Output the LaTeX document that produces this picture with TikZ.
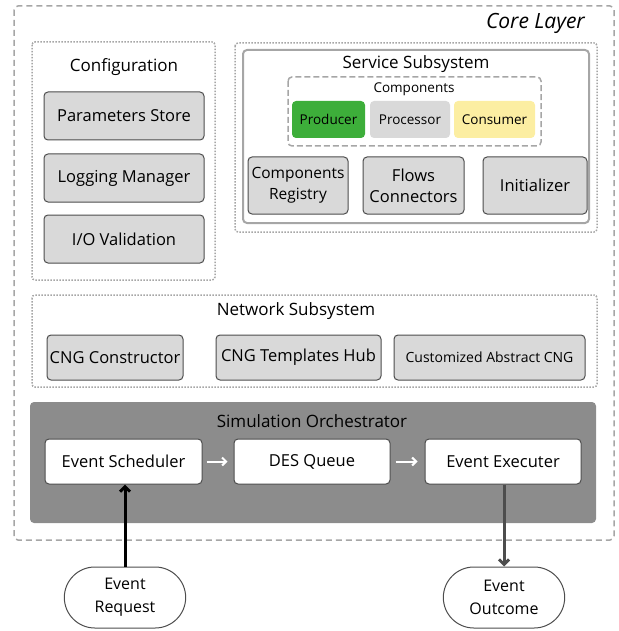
\documentclass[tikz,border=0pt]{standalone}
\usepackage{fontspec}
\setmainfont{Open Sans}
\usetikzlibrary{arrows.meta,shapes.misc}
\definecolor{boxgray}{HTML}{D9D9D9}
\definecolor{edgegray}{HTML}{4D4D4D}
\definecolor{dotgray}{HTML}{A6A6A6}
\definecolor{orchgray}{HTML}{8C8C8C}
\definecolor{prodgreen}{HTML}{3DAE3A}
\definecolor{consyellow}{HTML}{FCEEA2}
\tikzset{
  x=1pt,y=-1pt,
  gbox/.style={draw=edgegray,fill=boxgray,rounded corners=4,line width=1,align=center,inner sep=1,font=\fontsize{16.5}{21}\selectfont},
  wbox/.style={draw=edgegray,fill=white,rounded corners=4,line width=1,align=center,inner sep=1,font=\fontsize{16.5}{21}\selectfont},
  cbox/.style={rounded corners=4,align=center,inner sep=1,font=\fontsize{13.5}{16}\selectfont},
  dotbox/.style={draw=dotgray,line width=1.5,rounded corners=3,dash pattern=on 1.5pt off 1.5pt},
  ttl/.style={font=\fontsize{17}{20}\selectfont,inner sep=0},
  term/.style={draw=edgegray,fill=white,rounded rectangle,line width=1,align=center,minimum width=128,minimum height=61,font=\fontsize{16}{23}\selectfont},
  warrow/.style={draw=white,line width=2,-{Straight Barb[length=4pt,width=8pt]}},
}
\begin{document}
\begin{tikzpicture}
\useasboundingbox (0,0) rectangle (618,631);
% Core layer
\draw[dotgray,line width=1.5,rounded corners=4,dash pattern=on 6pt off 4pt] (14,6) rectangle (614,540);
\node[font=\fontsize{21}{24}\selectfont\itshape,anchor=east,inner sep=0] (core) at (585,23) {Core Layer};
% Configuration
\draw[dotbox] (32,42) rectangle (215,280);
\node[ttl] (cfg) at (124,67) {Configuration};
\node[gbox,minimum width=160,minimum height=48] (ps) at (124,116) {Parameters Store};
\node[gbox,minimum width=160,minimum height=48] (lm) at (124,178) {Logging Manager};
\node[gbox,minimum width=160,minimum height=48] (io) at (124,239) {I/O Validation};
% Service
\draw[dotbox] (235,43) rectangle (597,232);
\draw[dotgray,line width=2,rounded corners=4] (243,50) rectangle (589,223);
\node[ttl] (svc) at (416,64) {Service Subsystem};
\draw[dotgray,line width=1.5,rounded corners=4,dash pattern=on 6pt off 3pt] (288,77) rectangle (541,146);
\node[font=\fontsize{13.5}{16}\selectfont,inner sep=0] (comp) at (414,89) {Components};
\node[cbox,fill=prodgreen,minimum width=73,minimum height=37] (prod) at (328.5,119.5) {Producer};
\node[cbox,fill=boxgray,minimum width=80,minimum height=37] (proc) at (410,119.5) {Processor};
\node[cbox,fill=consyellow,minimum width=81,minimum height=37] (cons) at (494.5,119.5) {Consumer};
\node[gbox,minimum width=100,minimum height=57,font=\fontsize{15.5}{21}\selectfont] (reg) at (298,185.5) {Components\\Registry};
\node[gbox,minimum width=101,minimum height=57] (flw) at (413.5,185.5) {Flows\\Connectors};
\node[gbox,minimum width=104,minimum height=57] (ini) at (535,185.5) {Initializer};
% Network
\draw[dotbox] (32,295) rectangle (597,387);
\node[ttl] (net) at (296,311) {Network Subsystem};
\node[gbox,minimum width=136,minimum height=45] (cc) at (115,357.5) {CNG Constructor};
\node[gbox,minimum width=165,minimum height=45] (cth) at (298.5,357.5) {CNG Templates Hub};
\node[gbox,minimum width=191,minimum height=45,font=\fontsize{14}{16}\selectfont] (cac) at (489.5,357.5) {Customized Abstract CNG};
% Simulation orchestrator
\fill[orchgray,rounded corners=4] (30,402) rectangle (596,523);
\node[ttl] (sim) at (312,421) {Simulation Orchestrator};
\node[wbox,minimum width=157,minimum height=45] (es) at (123.5,461.5) {Event Scheduler};
\node[wbox,minimum width=156,minimum height=45] (dq) at (312,461.5) {DES Queue};
\node[wbox,minimum width=156,minimum height=45] (ee) at (503,461.5) {Event Executer};
\draw[warrow,shorten <=4pt,shorten >=6pt] (es) -- (dq);
\draw[warrow,shorten <=5pt,shorten >=7pt] (dq) -- (ee);
% terminals
\node[term] (er) at (125,597.5) {Event\\Request};
\node[term] (eo) at (504,597.5) {Event\\Outcome};
\draw[black,line width=3,-{Straight Barb[length=5pt,width=10pt]}] (er.north) -- (er.north |- es.south);
\draw[edgegray,line width=3,-{Straight Barb[length=5pt,width=10pt]}] (ee.south -| eo.north) -- (eo.north);
\end{tikzpicture}
\end{document}
